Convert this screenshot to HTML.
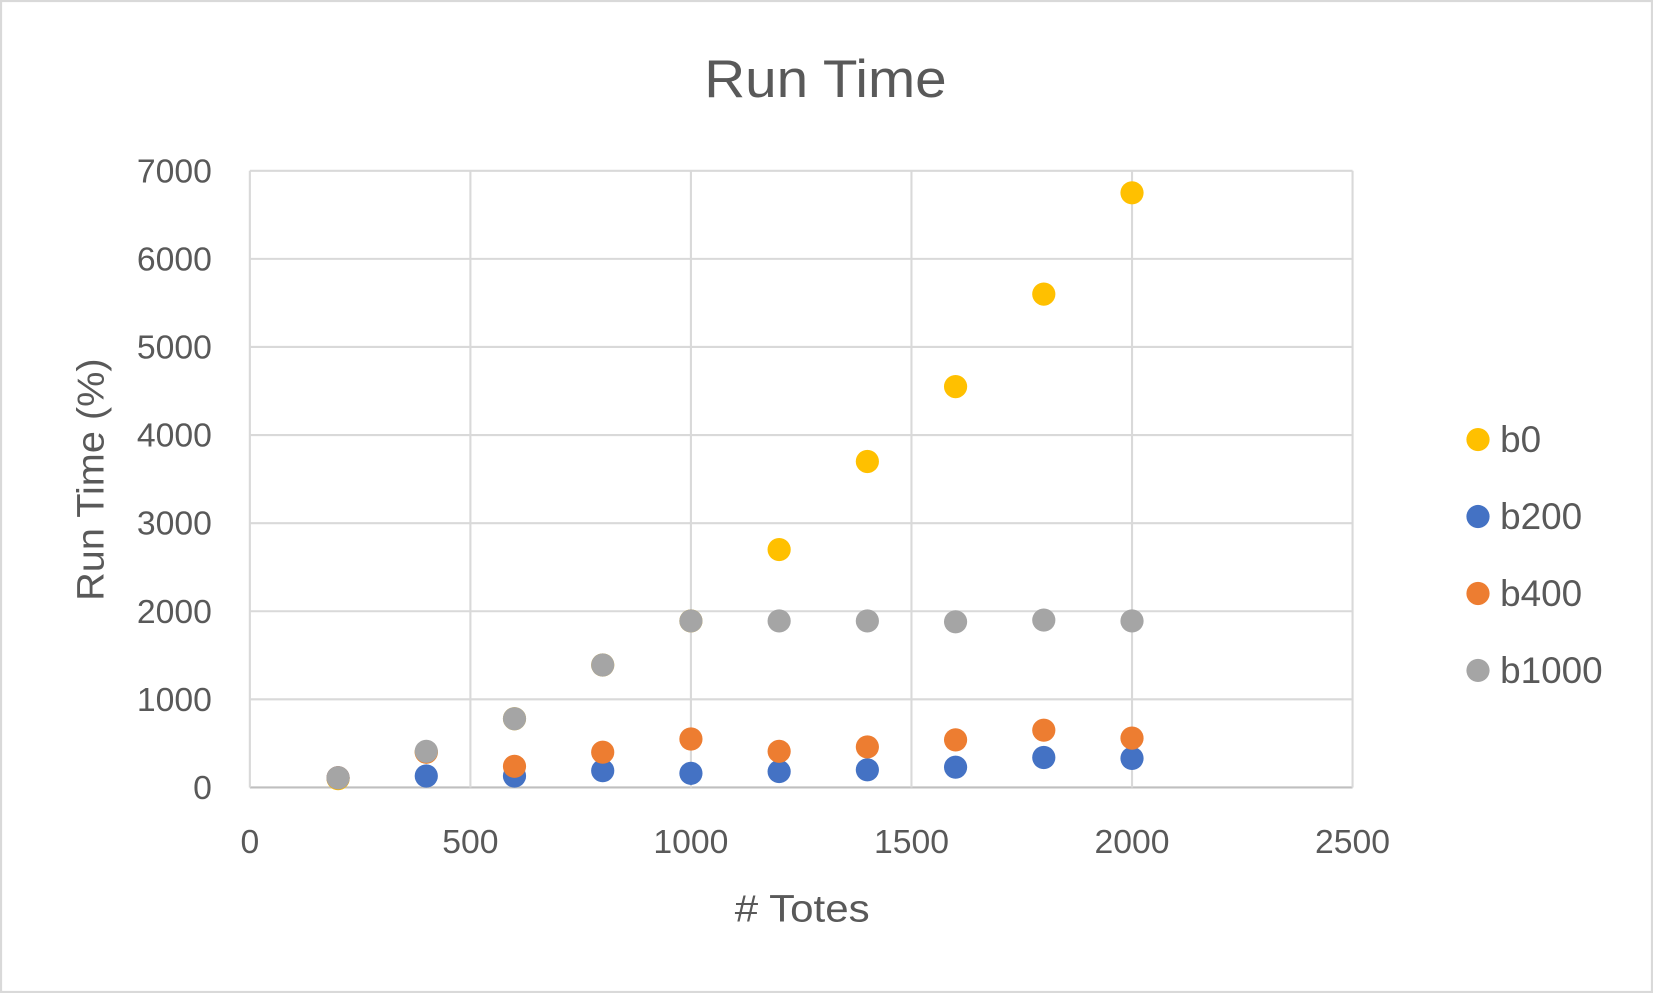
<!DOCTYPE html>
<html><head><meta charset="utf-8"><style>
html,body{margin:0;padding:0;background:#fff}
svg{display:block;font-family:"Liberation Sans",Calibri,sans-serif}
</style></head><body>
<svg id="chart" width="1653" height="993" viewBox="0 0 1568 942" preserveAspectRatio="none">
<rect x="1" y="1" width="1566" height="940" fill="#fff" stroke="#d9d9d9" stroke-width="2"/>
<text x="783" y="92" text-anchor="middle" font-size="50" textLength="230" lengthAdjust="spacingAndGlyphs" fill="#595959">Run Time</text>
<g id="grid"></g><g id="ticks"></g><g id="marks"></g>
<text x="761" y="874" text-anchor="middle" font-size="36" textLength="128" lengthAdjust="spacingAndGlyphs" fill="#595959"># Totes</text>
<text transform="translate(98,455) rotate(-90)" text-anchor="middle" font-size="36" textLength="230" lengthAdjust="spacingAndGlyphs" fill="#595959">Run Time (%)</text>
<g id="legend"></g>
</svg>
<script>
const xVals=[200,400,600,800,1000,1200,1400,1600,1800,2000];
const seriesNames=["b0","b200","b400","b1000"];
const seriesColors=["#FFC000","#4472C4","#ED7D31","#A5A5A5"];
const b0=[100,400,780,1390,1890,2700,3700,4550,5600,6750];
const b200=[110,130,130,190,160,180,200,230,340,330];
const b400=[110,400,240,400,550,410,460,540,650,560];
const b1000=[110,410,780,1390,1890,1890,1890,1880,1900,1890];
const xTicks=[0,500,1000,1500,2000,2500];
const yTicks=[0,1000,2000,3000,4000,5000,6000,7000];
const NS="http://www.w3.org/2000/svg";
const L=237,R=1283,T=162,B=747;
const sx=v=>L+(v-0)/(2500-0)*(R-L);
const sy=v=>B-(v-0)/(7000-0)*(B-T);
function mk(tag,attrs,parent){const e=document.createElementNS(NS,tag);for(const k in attrs)e.setAttribute(k,attrs[k]);parent.appendChild(e);return e;}
const grid=document.getElementById('grid'),ticks=document.getElementById('ticks'),marks=document.getElementById('marks'),legend=document.getElementById('legend');
yTicks.forEach(t=>{
 const l=mk('line',{x1:L,x2:R,y1:sy(t),y2:sy(t),stroke:t===0?'#bfbfbf':'#d9d9d9','stroke-width':2},grid);
 
 
 const tx=mk('text',{x:L-36,y:sy(t)+11,'text-anchor':'end','font-size':32,fill:'#595959'},ticks);
 tx.textContent=t;
 
 
});
xTicks.forEach(t=>{
 const l=mk('line',{x1:sx(t),x2:sx(t),y1:T,y2:B,stroke:'#d9d9d9','stroke-width':2},grid);
 
 
 const tx=mk('text',{x:sx(t),y:809,'text-anchor':'middle','font-size':32,fill:'#595959'},ticks);
 tx.textContent=t;
 
 
});
const allSeries=[b0,b200,b400,b1000];
allSeries.forEach((s,i)=>{
 s.forEach((v,j)=>{
  const c=mk('circle',{cx:sx(xVals[j]),cy:sy(v),r:11,fill:seriesColors[i]},marks);
  
  
 });
 const ly=417+i*73;
 const lc=mk('circle',{cx:1402,cy:ly,r:11,fill:seriesColors[i]},legend);
 
 
 const lt=mk('text',{x:1423,y:ly+12,'font-size':35,fill:'#595959'},legend);
 lt.textContent=seriesNames[i];
 
 
});
</script>
</body></html>
